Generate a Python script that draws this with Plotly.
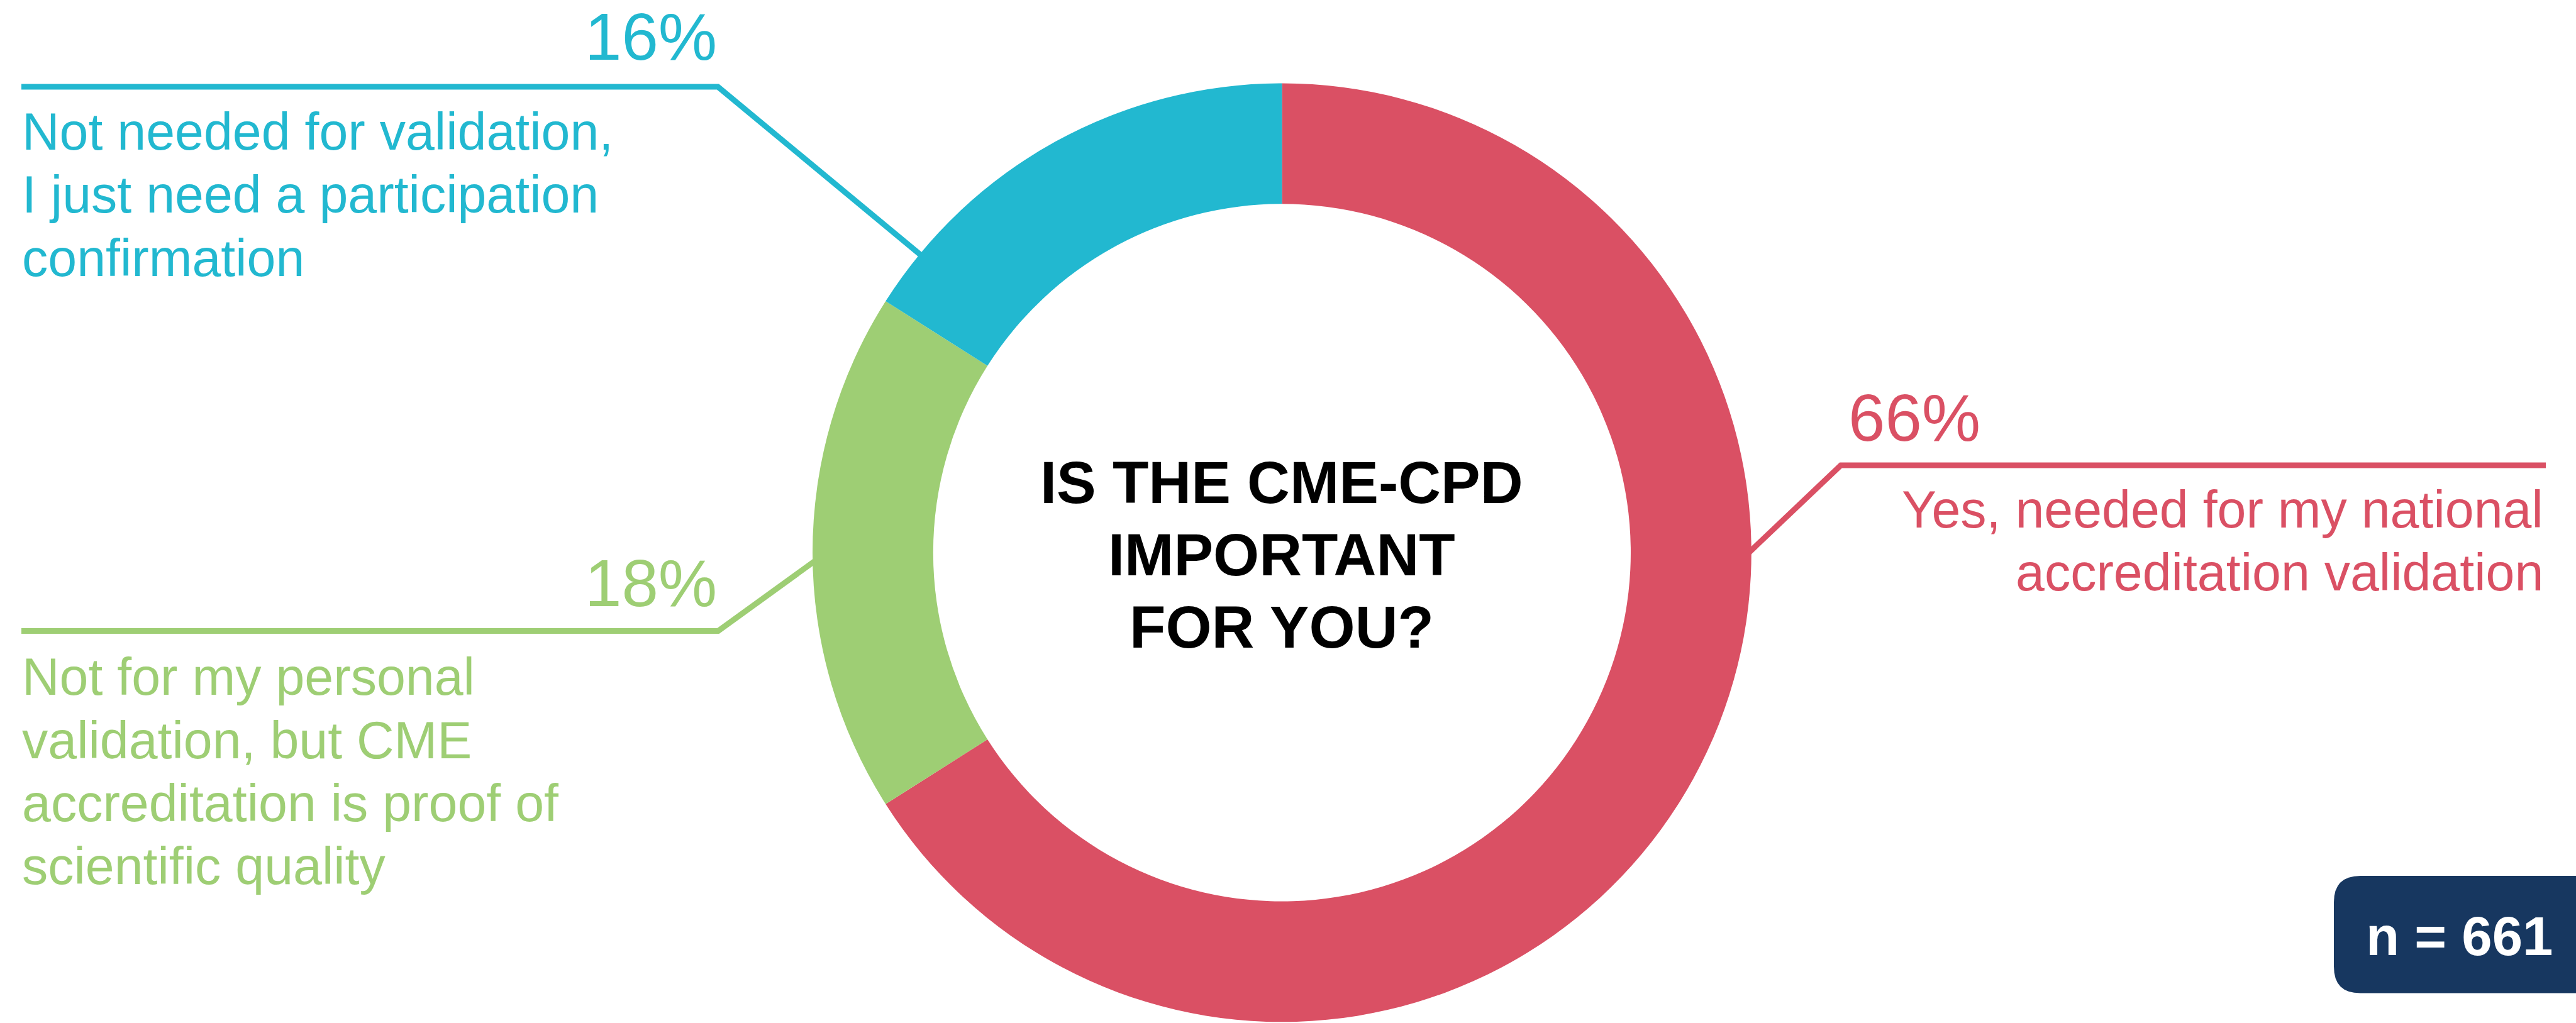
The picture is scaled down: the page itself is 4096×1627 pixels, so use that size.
import math
import plotly.graph_objects as go

# ---------------- data ----------------
categories = [
    "Yes, needed for my national accreditation validation",
    "Not for my personal validation, but CME accreditation is proof of scientific quality",
    "Not needed for validation, I just need a participation confirmation",
]
values = [66, 18, 16]
pct_labels = ["66%", "18%", "16%"]
label_lines = [
    ["Yes, needed for my national", "accreditation validation"],
    ["Not for my personal", "validation, but CME", "accreditation is proof of", "scientific quality"],
    ["Not needed for validation,", "I just need a participation", "confirmation"],
]
center_title = ["IS THE CME-CPD", "IMPORTANT", "FOR YOU?"]
sample_text = "n = 661"

# ---------------- style ----------------
W, H = 4096, 1627
colors = ["#DA5064", "#9ECE74", "#22B8D0"]
navy = "#173760"
FONT = "Liberation Sans"

CX, CY, R = 2038.4, 878.9, 746.4
HOLE = 0.743

LABEL_F = 82.5
PCT_F = 105
TITLE_F = 94
N_F = 87

def cy(baseline, f):
    return baseline - 0.3465 * f

# leader geometry per slice: attach angle (deg clockwise from top), corner, end
leaders = [
    dict(angle=90, corner=(2927, 740), end=(4048, 740)),
    dict(angle=269, corner=(1142, 1003.5), end=(34, 1003.5)),
    dict(angle=309.5, corner=(1141.5, 138), end=(34, 138)),
]
# percent label placement
pct_pos = [
    dict(x=2937, base=700.4, anchor="left"),
    dict(x=1142, base=964, anchor="right"),
    dict(x=1142, base=95, anchor="right"),
]
# label lines placement
lab_pos = [
    dict(x=4046, bases=[838.4, 938.7], anchor="right"),
    dict(x=33, bases=[1104.8, 1205.1, 1305.5, 1405.8], anchor="left"),
    dict(x=33, bases=[237.4, 337.8, 438.1], anchor="left"),
]
title_bases = [800, 915.5, 1030.4]

fig = go.Figure()

fig.add_trace(go.Pie(
    labels=categories,
    values=values,
    hole=HOLE,
    sort=False,
    direction="clockwise",
    rotation=0,
    marker=dict(colors=colors, line=dict(width=0)),
    textinfo="none",
    hoverinfo="label+percent",
    showlegend=False,
    domain=dict(
        x=[(CX - R) / W, (CX + R) / W],
        y=[1 - (CY + R) / H, 1 - (CY - R) / H],
    ),
))

# invisible overlay axis in pixel units for decorations
fig.add_trace(go.Scatter(x=[0, W], y=[0, H], mode="markers",
                         marker=dict(opacity=0), hoverinfo="skip", showlegend=False))

shapes = []
annotations = []

for i, ld in enumerate(leaders):
    a = math.radians(ld["angle"])
    ax_ = CX + (R - 4) * math.sin(a)
    ay_ = CY - (R - 4) * math.cos(a)
    cx_, cy_ = ld["corner"]
    ex, ey = ld["end"]
    shapes.append(dict(
        type="path", xref="x", yref="y", layer="below",
        path=f"M {ax_:.1f},{ay_:.1f} L {cx_:.1f},{cy_:.1f} L {ex:.1f},{ey:.1f}",
        line=dict(color=colors[i], width=9),
    ))
    p = pct_pos[i]
    annotations.append(dict(
        x=p["x"], y=cy(p["base"], PCT_F), xref="x", yref="y",
        text=pct_labels[i], showarrow=False, xanchor=p["anchor"], yanchor="middle",
        font=dict(family=FONT, size=PCT_F, color=colors[i]),
    ))
    lp = lab_pos[i]
    for line, b in zip(label_lines[i], lp["bases"]):
        annotations.append(dict(
            x=lp["x"], y=cy(b, LABEL_F), xref="x", yref="y",
            text=line, showarrow=False, xanchor=lp["anchor"], yanchor="middle",
            font=dict(family=FONT, size=LABEL_F, color=colors[i]),
        ))

for line, b in zip(center_title, title_bases):
    annotations.append(dict(
        x=CX, y=cy(b, TITLE_F), xref="x", yref="y",
        text=line, showarrow=False, xanchor="center", yanchor="middle",
        font=dict(family=FONT, size=TITLE_F, color="#000000", weight="bold"),
    ))

# n box (rounded left corners, runs off the right edge)
bx0, by0, by1, rr = 3711, 1393, 1579.6, 42
bx1 = W + 20
shapes.append(dict(
    type="path", xref="x", yref="y", layer="above",
    path=(f"M {bx0+rr},{by0} L {bx1},{by0} L {bx1},{by1} L {bx0+rr},{by1} "
          f"Q {bx0},{by1} {bx0},{by1-rr} L {bx0},{by0+rr} Q {bx0},{by0} {bx0+rr},{by0} Z"),
    fillcolor=navy, line=dict(width=0),
))
annotations.append(dict(
    x=3910, y=cy(1518.7, N_F), xref="x", yref="y",
    text=sample_text, showarrow=False, xanchor="center", yanchor="middle",
    font=dict(family=FONT, size=N_F, color="#FFFFFF", weight="bold"),
))

fig.update_layout(
    width=W, height=H,
    margin=dict(l=0, r=0, t=0, b=0, pad=0),
    paper_bgcolor="white", plot_bgcolor="white",
    xaxis=dict(range=[0, W], visible=False, fixedrange=True, domain=[0, 1]),
    yaxis=dict(range=[H, 0], visible=False, fixedrange=True, domain=[0, 1]),
    shapes=shapes,
    annotations=annotations,
    showlegend=False,
)

fig.write_html("out.html", config={"displayModeBar": False},
               post_script="document.body.style.margin='0';")
